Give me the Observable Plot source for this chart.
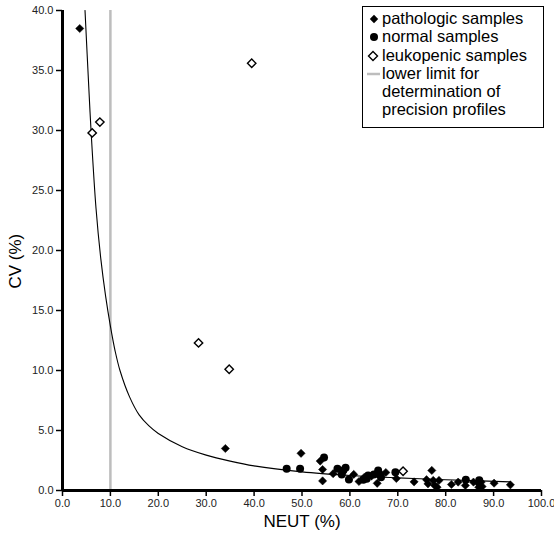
<!DOCTYPE html>
<html>
<head>
<meta charset="utf-8">
<script src="https://cdn.jsdelivr.net/npm/d3@7"></script>
<script src="https://cdn.jsdelivr.net/npm/@observablehq/plot@0.6"></script>
<style>
  html, body { margin: 0; padding: 0; background: #fff; }
  #wrap { position: relative; width: 554px; height: 535px; font-family: "Liberation Sans", Arial, sans-serif; }
  #legend { position: absolute; left: 362px; top: 6px; width: 182px; height: 122px; border: 1px solid #000; background: #fff; box-sizing: border-box; font-size: 16.5px; line-height: 18.3px; color: #000; padding-top: 2px; }
  .row { position: relative; padding-left: 19px; white-space: nowrap; }
  .sym { position: absolute; left: 6px; top: 5px; }
</style>
</head>
<body>
<div id="wrap">
  <div id="chart"></div>
  <div id="legend"></div>
</div>
<script>
// Pathologic samples (filled diamonds)
const pathX = [3.6, 34.0, 49.8, 53.8, 54.3, 54.3, 56.5, 58.5, 60.8, 61.9, 63.0, 64.5, 65.7, 67.5, 69.7, 73.4, 77.1, 76.0, 76.3, 77.4, 77.7, 78.2, 78.6, 81.2, 82.6, 84.1, 85.8, 86.9, 87.4, 87.6, 86.9, 90.1, 93.5];
const pathY = [38.5, 3.5, 3.1, 2.45, 1.75, 0.8, 1.4, 1.55, 1.34, 0.75, 1.1, 1.2, 0.6, 1.5, 1.0, 0.72, 1.67, 0.9, 0.56, 0.84, 0.42, 0.28, 0.84, 0.5, 0.7, 0.42, 0.7, 0.56, 0.7, 0.33, 0.28, 0.61, 0.47];
// Normal samples (filled circles)
const normX = [46.8, 49.6, 54.6, 57.4, 58.6, 59.1, 58.3, 59.8, 62.8, 63.8, 63.5, 65.9, 65.0, 66.25, 66.5, 69.5, 84.2, 87.0];
const normY = [1.81, 1.81, 2.75, 1.81, 1.67, 1.9, 1.34, 0.92, 0.9, 1.26, 0.98, 1.67, 1.34, 1.34, 1.1, 1.53, 0.9, 0.85];
// Leukopenic samples (open diamonds)
const leukX = [6.2, 7.8, 39.5, 28.4, 34.8, 71.1];
const leukY = [29.8, 30.7, 35.6, 12.3, 10.1, 1.6];
// Precision-profile curve
const curveX = [4.7, 5.5, 6.0, 7.0, 8.0, 9.0, 10, 11, 12, 14, 16, 18, 20, 25, 30, 35, 40, 50, 60, 70, 80, 93.5];
const curveY = [40, 33.5, 29.7, 23.5, 19.3, 16.2, 13.7, 11.6, 10.0, 7.8, 6.3, 5.4, 4.75, 3.65, 2.95, 2.45, 2.05, 1.55, 1.25, 1.05, 0.9, 0.72];
// Lower limit for determination of precision profiles
const lowerLimit = [10];
// Ticks
const xTicks = [0, 10, 20, 30, 40, 50, 60, 70, 80, 90, 100];
const yTicks = [0, 5, 10, 15, 20, 25, 30, 35, 40];
const xLabel = "NEUT (%)";
const yLabel = "CV (%)";
const legendLabels = ["pathologic samples", "normal samples", "leukopenic samples", "lower limit for determination of precision profiles"];

const path = pathX.map((x, i) => ({x, y: pathY[i]}));
const norm = normX.map((x, i) => ({x, y: normY[i]}));
const leuk = leukX.map((x, i) => ({x, y: leukY[i]}));
const curve = curveX.map((x, i) => ({x, y: curveY[i]}));
const fmt = d => d.toFixed(1);

const chart = Plot.plot({
  width: 554,
  height: 535,
  marginLeft: 62,
  marginRight: 13,
  marginTop: 10,
  marginBottom: 45,
  style: {fontFamily: "'Liberation Sans', Arial, sans-serif", fontSize: "11px", color: "#000", background: "#fff", overflow: "visible"},
  x: {domain: [0, 100], label: null},
  y: {domain: [0, 40], label: null},
  marks: [
    Plot.ruleX(lowerLimit, {stroke: "#bdbdbd", strokeWidth: 2.5}),
    Plot.line(curve, {x: "x", y: "y", stroke: "#000", strokeWidth: 1.1, curve: "catmull-rom", clip: true}),
    Plot.axisX({ticks: xTicks, tickFormat: fmt, tickSize: 6, tickPadding: 3, strokeWidth: 1.5, fill: "#222"}),
    Plot.axisY({ticks: yTicks, tickFormat: fmt, tickSize: 6, tickPadding: 3, strokeWidth: 1.5, fill: "#222"}),
    Plot.ruleY([0], {stroke: "#000", strokeWidth: 3}),
    Plot.ruleX([0], {stroke: "#000", strokeWidth: 3}),
    Plot.dot(path, {x: "x", y: "y", symbol: "diamond2", r: 3.7, fill: "#000", stroke: "#000", strokeWidth: 0.5}),
    Plot.dot(norm, {x: "x", y: "y", symbol: "circle", r: 4, fill: "#000", stroke: "none"}),
    Plot.dot(leuk, {x: "x", y: "y", symbol: "diamond2", r: 3.8, fill: "#fff", stroke: "#000", strokeWidth: 1.4}),
    Plot.text([xLabel], {frameAnchor: "bottom", dy: 31, fontSize: 17, fill: "#000", lineAnchor: "middle"}),
    Plot.text([yLabel], {frameAnchor: "left", dx: -47, dy: 38, rotate: -90, fontSize: 17, fill: "#000", lineAnchor: "middle"})
  ]
});
document.getElementById("chart").appendChild(chart);

// Legend
const legend = d3.select("#legend");
const syms = [
  '<svg class="sym" width="10" height="10"><path d="M5,0.8L9.2,5L5,9.2L0.8,5Z" fill="#000"/></svg>',
  '<svg class="sym" width="10" height="10"><circle cx="5" cy="5" r="4" fill="#000"/></svg>',
  '<svg class="sym" width="12" height="12" style="left:4px;top:4px"><path d="M6,1.5L10.5,6L6,10.5L1.5,6Z" fill="#fff" stroke="#000" stroke-width="1.4"/></svg>',
  '<svg class="sym" width="14" height="4" style="left:4px;top:8px"><line x1="0" y1="2" x2="13" y2="2" stroke="#bdbdbd" stroke-width="2.5"/></svg>'
];
const lastLines = ["lower limit for", "determination of", "precision profiles"];
legendLabels.forEach((lab, i) => {
  const row = legend.append("div").attr("class", "row");
  row.html(syms[i]);
  if (i < 3) row.append("span").text(lab);
  else lastLines.forEach((l, j) => { row.append("div").text(l); });
});
</script>
</body>
</html>
